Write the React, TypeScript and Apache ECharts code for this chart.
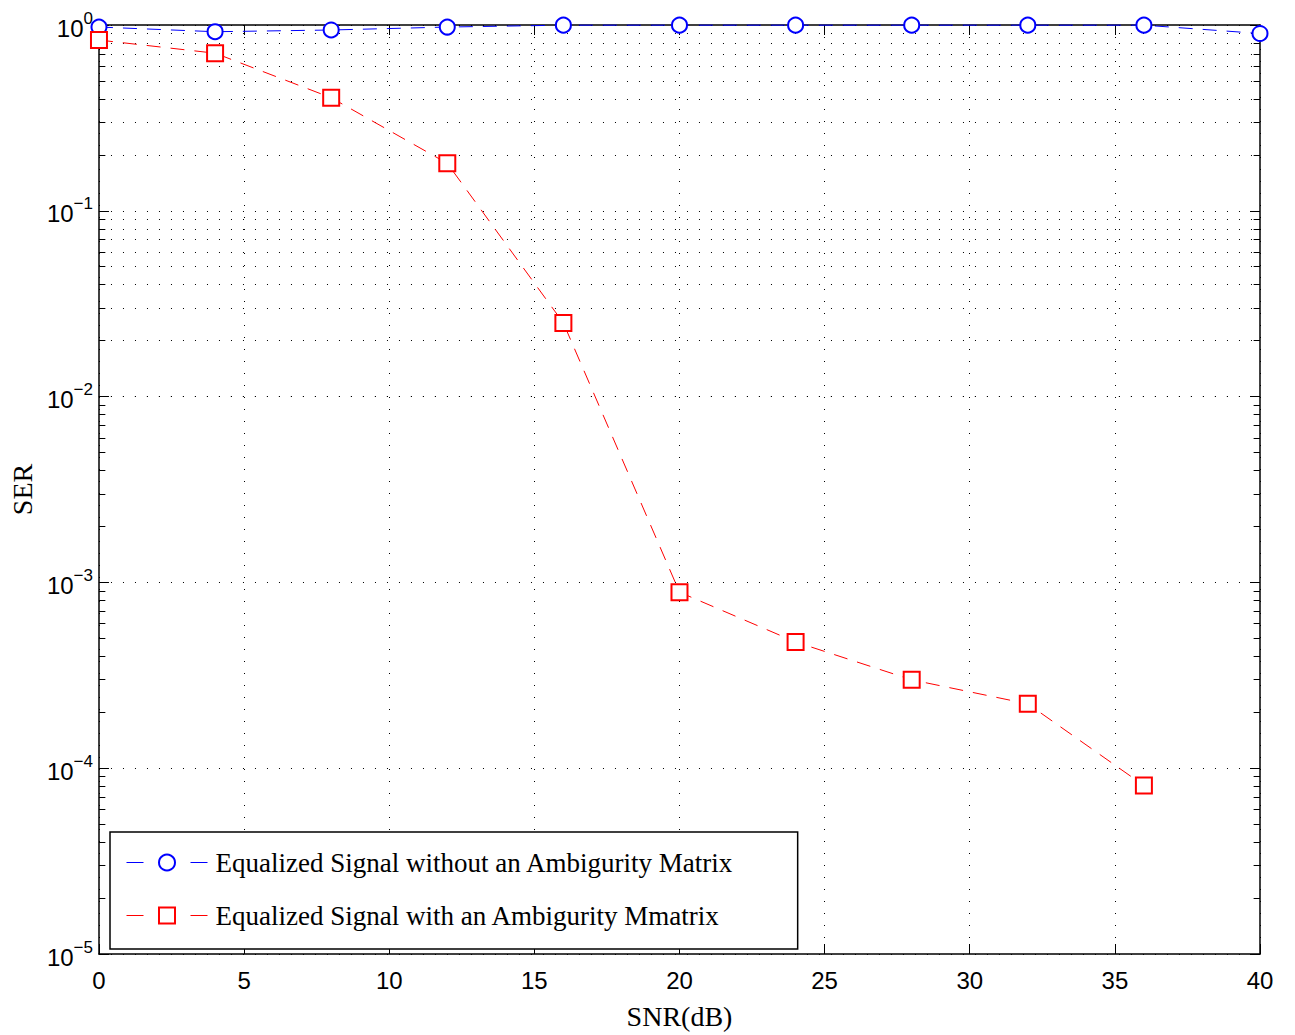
import React, { useEffect, useRef } from "react";
import * as echarts from "echarts";

const snrBlue = [0, 4, 8, 12, 16, 20, 24, 28, 32, 36, 40];
const serBlue = [0.975, 0.92, 0.94, 0.975, 0.998, 0.998, 0.998, 0.998, 0.998, 0.998, 0.9];
const snrRed = [0, 4, 8, 12, 16, 20, 24, 28, 32, 36];
const serRed = [0.83, 0.705, 0.406, 0.18, 0.0249, 8.86e-4, 4.78e-4, 2.99e-4, 2.22e-4, 8.07e-5];
const decades = [1e-5, 1e-4, 1e-3, 1e-2, 1e-1];
const minorMultipliers = [2, 3, 4, 5, 6, 7, 8, 9];
const nameBlue = "Equalized Signal without an Ambigurity Matrix";
const nameRed = "Equalized Signal with an Ambigurity Mmatrix";

const SANS = "Liberation Sans";
const SERIF = "Liberation Serif";

export default function App() {
  const ref = useRef<HTMLDivElement>(null);
  useEffect(() => {
    document.body.style.margin = "0";
    if (!ref.current) return;
    const chart = echarts.init(ref.current, undefined, { renderer: "svg" });
    const minorVals: number[] = [];
    decades.forEach((d) => minorMultipliers.forEach((m) => minorVals.push(m * d)));
    const dotted = [1, 11];
    const minorGrid = minorVals.map((v) => ({ yAxis: v }));
    const minorTicks: any[] = [];
    minorVals.forEach((v) => {
      minorTicks.push([{ coord: [0, v] }, { coord: [0.22, v] }]);
      minorTicks.push([{ coord: [39.78, v] }, { coord: [40, v] }]);
    });
    const expLabel = (v: number) => {
      const e = Math.round(Math.log10(v));
      return "{b|10}{s|" + (e === 0 ? "0" : "\u2212" + -e) + "}";
    };
    const axisLineStyle = { color: "#000", width: 1.5 };
    chart.setOption({
      animation: false,
      backgroundColor: "#fff",
      grid: { left: 98, right: 35, top: 25, bottom: 78, containLabel: false },
      legend: {
        orient: "vertical",
        left: 110,
        top: 832,
        padding: [17, 64, 20, 16],
        itemWidth: 81,
        itemHeight: 20,
        itemGap: 26,
        borderColor: "#000",
        borderWidth: 1.5,
        borderRadius: 0,
        backgroundColor: "#fff",
        textStyle: { fontFamily: SERIF, fontSize: 27, color: "#000", padding: [0, 0, 0, 3] },
        lineStyle: { type: [17, 47], width: 1 },
        data: [nameBlue, nameRed],
      },
      xAxis: [
        {
          type: "value",
          min: 0,
          max: 40,
          interval: 5,
          name: "SNR(dB)",
          nameLocation: "middle",
          nameGap: 48,
          nameTextStyle: { fontFamily: SERIF, fontSize: 28, color: "#000" },
          axisLine: { lineStyle: axisLineStyle },
          axisTick: { inside: true, length: 10, lineStyle: { color: "#000" } },
          axisLabel: { fontFamily: SANS, fontSize: 24, color: "#000", margin: 14 },
          splitLine: { show: true, lineStyle: { type: dotted, color: "#000", width: 1 } },
        },
        {
          type: "value",
          position: "top",
          min: 0,
          max: 40,
          interval: 5,
          axisLine: { onZero: false, lineStyle: axisLineStyle },
          axisTick: { inside: true, length: 10, lineStyle: { color: "#000" } },
          axisLabel: { show: false },
          splitLine: { show: false },
        },
      ],
      yAxis: [
        {
          type: "log",
          logBase: 10,
          min: 1e-5,
          max: 1,
          name: "SER",
          nameLocation: "middle",
          nameGap: 59,
          nameRotate: 90,
          nameTextStyle: { fontFamily: SERIF, fontSize: 28, color: "#000" },
          axisLine: { show: true, onZero: false, lineStyle: axisLineStyle },
          axisTick: { inside: true, length: 10, lineStyle: { color: "#000" } },
          axisLabel: {
            margin: 6,
            formatter: expLabel,
            rich: {
              b: { fontFamily: SANS, fontSize: 24, color: "#000", padding: [6, 0, 0, 0] },
              s: { fontFamily: SANS, fontSize: 17, color: "#000", verticalAlign: "bottom", padding: [0, 0, 14, 0] },
            },
          },
          splitLine: { show: true, lineStyle: { type: dotted, color: "#000", width: 1 } },
        },
        {
          type: "log",
          logBase: 10,
          min: 1e-5,
          max: 1,
          position: "right",
          axisLine: { show: true, onZero: false, lineStyle: axisLineStyle },
          axisTick: { inside: true, length: 10, lineStyle: { color: "#000" } },
          axisLabel: { show: false },
          splitLine: { show: false },
        },
      ],
      series: [
        {
          type: "line",
          name: "grid-minor",
          data: [],
          silent: true,
          markLine: {
            silent: true,
            animation: false,
            symbol: ["none", "none"],
            label: { show: false },
            lineStyle: { type: dotted, color: "#000", width: 1 },
            emphasis: { disabled: true },
            data: minorGrid,
          },
        },
        {
          type: "line",
          name: "tick-minor",
          data: [],
          silent: true,
          markLine: {
            silent: true,
            animation: false,
            symbol: ["none", "none"],
            label: { show: false },
            lineStyle: { type: "solid", color: "#000", width: 1 },
            emphasis: { disabled: true },
            data: minorTicks,
          },
        },
        {
          type: "line",
          name: nameBlue,
          data: snrBlue.map((x, i) => [x, serBlue[i]]),
          color: "#0000ff",
          symbol: "emptyCircle",
          symbolSize: 15,
          clip: false,
          z: 5,
          lineStyle: { color: "#0000ff", width: 1, type: [14, 10] },
          itemStyle: { color: "#0000ff", borderColor: "#0000ff", borderWidth: 1.2 },
        },
        {
          type: "line",
          name: nameRed,
          data: snrRed.map((x, i) => [x, serRed[i]]),
          color: "#ff0000",
          symbol: "emptyRect",
          symbolSize: 16,
          clip: false,
          z: 5,
          lineStyle: { color: "#ff0000", width: 1, type: [14, 10] },
          itemStyle: { color: "#ff0000", borderColor: "#ff0000", borderWidth: 1.2 },
        },
      ],
    });
    return () => chart.dispose();
  }, []);
  return <div ref={ref} style={{ width: 1295, height: 1035 }} />;
}
